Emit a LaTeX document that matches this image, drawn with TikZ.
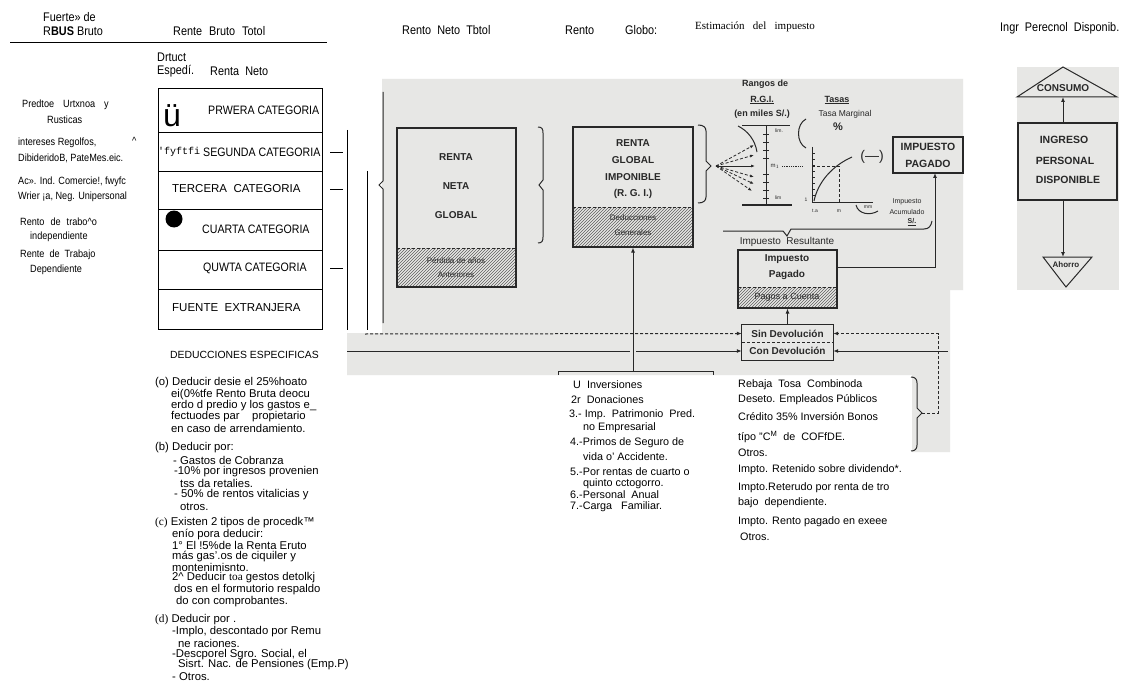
\documentclass[tikz,border=0pt]{standalone}
\usepackage{fontspec}
\setmainfont{Liberation Sans}
\newfontfamily\narrowf{Liberation Sans}[FakeStretch=0.87]
\newfontfamily\seriff{Liberation Serif}
\newfontfamily\monof{Liberation Mono}
\usetikzlibrary{patterns,arrows.meta}
\definecolor{ink}{RGB}{40,40,40}
\definecolor{scanbg}{RGB}{231,231,229}
\begin{document}
\begin{tikzpicture}[x=1pt,y=-1pt,
  txt/.style={inner sep=0pt, anchor=west},
  hdr/.style={txt, font=\narrowf\fontsize{12.5}{13}\selectfont},
  lab/.style={txt, font=\narrowf\fontsize{10.5}{11}\selectfont},
  ded/.style={txt, font=\fontsize{11.3}{12}\selectfont},
  lst/.style={txt, font=\fontsize{10.8}{12}\selectfont},
  cat/.style={draw=black, line width=0.8pt, minimum width=164pt, inner sep=0pt},
  catn/.style={txt, font=\narrowf\fontsize{12.2}{13}\selectfont},
  catr/.style={txt, font=\fontsize{11.5}{12}\selectfont},
  sbox/.style={draw=ink, line width=1.1pt, inner sep=0pt},
  stx/.style={inner sep=0pt, text=ink, font=\bfseries\fontsize{10}{11}\selectfont},
  ssm/.style={inner sep=0pt, text=ink, font=\fontsize{8}{9}\selectfont},
  sline/.style={draw=ink, line width=1pt},
  arr/.style={sline, -{Latex[length=5pt,width=4pt]}},
  hatch/.style={pattern=north east lines, pattern color=ink!75},
]
\useasboundingbox (0,0) rectangle (1121,687);
\fill[white] (0,0) rectangle (1121,687);
% scanned areas
\fill[scanbg] (382,79) -- (963,79) -- (963,290) -- (950,290) -- (950,452) -- (912,452) -- (912,375) -- (347,375) -- (347,333) -- (382,333) -- cycle;
\fill[scanbg] (1017,67) rectangle (1119,290);

% ---------- headers ----------
\node[hdr] (h1) at (43,17) {Fuerte» de};
\node[hdr] (h2) at (43,31) {R\textbf{BUS} Bruto};
\draw[line width=0.8pt] (10,42) -- (327,42);
\node[hdr] (h3) at (173,31) {Rente\hspace{7pt}Bruto\hspace{7pt}Totol};
\node[hdr] (h4) at (157,57) {Drtuct};
\node[hdr] (h5) at (157,71) {Espedí.};
\node[hdr] (h6) at (210,71) {Renta\ \ Neto};
\node[hdr] (h7) at (402,30) {Rento\ \ Neto\ \ Tbtol};
\node[hdr] (h8) at (565,30) {Rento};
\node[hdr] (h9) at (625,30) {Globo:};
\node[txt, font=\seriff\fontsize{11}{12}\selectfont] (h10) at (695,27) {Estimación\ \ \ del\ \ \ impuesto};
\node[hdr] (h11) at (1000,28) {Ingr\ \ Perecnol\ \ Disponib.};

% ---------- left labels ----------
\node[lab] (l1) at (22,105) {Predtoe\hspace{9pt}Urtxnoa\hspace{9pt}y};
\node[lab] (l2) at (47,120) {Rusticas};
\node[lab] (l3) at (18,143) {intereses Regolfos,};
\node[lab] (l3b) at (132,141) {\textasciicircum};
\node[lab] (l4) at (18,158) {DibideridoB, PateMes.eic.};
\node[lab] (l5) at (18,182) {Ac». Ind. Comercie!, fwyfc};
\node[lab] (l6) at (18,197) {Wrier ¡a, Neg. Unipersonal};
\node[lab] (l7) at (20,222) {Rento\hspace{6pt}de\hspace{6pt}trabo\textasciicircum o};
\node[lab] (l8) at (30,237) {independiente};
\node[lab] (l9) at (20,255) {Rente\hspace{5pt}de\hspace{5pt}Trabajo};
\node[lab] (l10) at (30,270) {Dependiente};

% ---------- category boxes ----------
\node[cat, minimum height=44pt] (c1) at (240,110) {};
\node[cat, minimum height=39pt] (c2) at (240,151.5) {};
\node[cat, minimum height=38pt] (c3) at (240,190) {};
\node[cat, minimum height=41pt] (c4) at (240,229.5) {};
\node[cat, minimum height=39pt] (c5) at (240,269.5) {};
\node[cat, minimum height=40pt] (c6) at (240,309) {};
\node[txt, font=\fontsize{32}{32}\selectfont] (uu) at (163,116) {ü};
\node[catn] (t1) at (208,110) {PRWERA CATEGORIA};
\node[txt, font=\monof\fontsize{10}{11}\selectfont] (t2a) at (158,152) {'fyftfi};
\node[catn] (t2) at (203,152) {SEGUNDA CATEGORIA};
\node[catr] (t3) at (172,189) {TERCERA\ \ CATEGORIA};
\node[circle, fill=black, minimum size=17pt, inner sep=0pt] (dot) at (174,219) {};
\node[catn] (t4) at (202,229) {CUARTA CATEGORIA};
\node[catn] (t5) at (203,268) {QUWTA CATEGORIA};
\node[catr] (t6) at (172,308) {FUENTE\ \ EXTRANJERA};
\draw[line width=0.8pt] (330,152) -- (343,152);
\draw[line width=0.8pt] (330,189) -- (343,189);
\draw[line width=0.8pt] (330,268) -- (343,268);
\draw[line width=0.9pt] (347,130) -- (347,330);
\draw[line width=0.9pt] (367,171) -- (367,330);

% ---------- deducciones ----------
\node[txt, font=\fontsize{10.4}{11}\selectfont] (d0) at (170,355) {DEDUCCIONES ESPECIFICAS};
\node[ded] (d1) at (155,383) {(o) Deducir desie el 25\%hoato};
\node[ded] (d2) at (171,395) {ei(0\%tfe Rento Bruta deocu};
\node[ded] (d3) at (171,406) {erdo d predio y los gastos e\_};
\node[ded] (d4) at (171,417) {fectuodes par\ \ \ \ propietario};
\node[ded] (d5) at (171,428) {en caso de arrendamiento.};
\node[ded] (d6) at (155,448) {(b) Deducir por:};
\node[ded] (d7) at (173,460) {- Gastos de Cobranza};
\node[ded] (d8) at (174,472) {-10\% por ingresos provenien};
\node[ded] (d9) at (180,483) {tss da retalies.};
\node[ded] (d10) at (174,495) {- 50\% de rentos vitalicias y};
\node[ded] (d11) at (180,507) {otros.};
\node[ded] (d12) at (155,523) {{\seriff(c)} Existen 2 tipos de procedk™};
\node[ded] (d13) at (172,535) {enío pora deducir:};
\node[ded] (d14) at (172,545) {1° El !5\%de la Renta Eruto};
\node[ded] (d15) at (172,557) {más gas'.os de ciquiler y};
\node[ded] (d16) at (172,567) {montenimisnto.};
\node[ded] (d17) at (172,578) {2\textasciicircum{} Deducir {\seriff toa} gestos detolkj};
\node[ded] (d18) at (174,590) {dos en el formutorio respaldo};
\node[ded] (d19) at (176,602) {do con comprobantes.};
\node[ded] (d20) at (155,620) {{\seriff(d)} Deducir por .};
\node[ded] (d21) at (172,632) {-Implo, descontado por Remu};
\node[ded] (d22) at (178,643) {ne raciones.};
\node[ded] (d23) at (172,655) {-Descporel Sgro. Social, el};
\node[ded] (d24) at (178,665) {Sisrt. Nac. de Pensiones (Emp.P)};
\node[ded] (d25) at (172,677) {- Otros.};

% ---------- lists ----------
\node[lst] (a1) at (573,385) {U\ \ Inversiones};
\node[lst] (a2) at (571,400) {2r\ \ Donaciones};
\node[lst] (a3) at (569,415) {3.- Imp.\ \ Patrimonio\ \ Pred.};
\node[lst] (a4) at (583,428) {no Empresarial};
\node[lst] (a5) at (570,443) {4.-Primos de Seguro de};
\node[lst] (a6) at (583,457) {vida o' Accidente.};
\node[lst] (a7) at (570,472) {5.-Por rentas de cuarto o};
\node[lst] (a8) at (583,484) {quinto cctogorro.};
\node[lst] (a9) at (570,495) {6.-Personal\ \ Anual};
\node[lst] (a10) at (570,507) {7.-Carga\ \ \ Familiar.};
\node[lst] (b1) at (738,385) {Rebaja\ \ Tosa\ \ Combinoda};
\node[lst] (b2) at (738,400) {Deseto. Empleados Públicos};
\node[lst] (b3) at (738,417) {Crédito 35\% Inversión Bonos};
\node[lst] (b4) at (738,437) {típo "C\textsuperscript{M}\ \ de\ \ COFfDE.};
\node[lst] (b5) at (738,453) {Otros.};
\node[lst] (b6) at (738,470) {Impto. Retenido sobre dividendo*.};
\node[lst] (b7) at (738,488) {Impto.Reterudo por renta de tro};
\node[lst] (b8) at (738,503) {bajo\ \ dependiente.};
\node[lst] (b9) at (738,522) {Impto. Rento pagado en exeee};
\node[lst] (b10) at (740,537) {Otros.};

% ---------- scanned diagram ----------
\draw[sline] (383,92) -- (383,181) -- (379,185) -- (383,189) -- (383,323);
% renta neta global
\fill[hatch] (397,248) rectangle (516,287);
\node[sbox, minimum width=119pt, minimum height=159pt] (rng) at (456.5,207.5) {};
\draw[sline, densely dashed] (397,248) -- (516,248);
\node[stx] (rn1) at (456,157) {RENTA};
\node[stx] (rn2) at (456,186) {NETA};
\node[stx] (rn3) at (456,215) {GLOBAL};
\node[ssm] (rn4) at (456,261) {Pérdida de años};
\node[ssm] (rn5) at (456,275) {Anteriores};
\draw[sline] (538,127) .. controls (542,127) and (543,129) .. (543,133) -- (543,180) -- (539,185) -- (543,190) -- (543,237) .. controls (543,241) and (542,243) .. (538,243);
% renta global imponible
\fill[hatch] (573,207) rectangle (693,247);
\node[sbox, minimum width=120pt, minimum height=120pt] (rgi) at (633,187) {};
\draw[sline, densely dashed] (573,207) -- (693,207);
\node[stx] (rg1) at (633,143) {RENTA};
\node[stx] (rg2) at (633,160) {GLOBAL};
\node[stx] (rg3) at (633,177) {IMPONIBLE};
\node[stx] (rg4) at (633,194) {(R. G. I.)};
\node[ssm] (rg5) at (633,218) {Deducciones};
\node[ssm] (rg6) at (633,233) {Generales};
\draw[sline] (698,125) .. controls (703,125) and (706,127) .. (706,131) -- (706,161) -- (711,166) -- (706,171) -- (706,197) .. controls (706,201) and (703,203) .. (698,203);
% fan
\coordinate (fo) at (716,166);
\coordinate (f1) at (754,145);
\coordinate (f2) at (754,155);
\coordinate (f3) at (755,166);
\coordinate (f4) at (754,177);
\coordinate (f5) at (754,184);
\coordinate (f6) at (752,191);
\foreach \p in {f1,f2,f4,f5,f6} \draw[sline, line width=0.8pt, densely dashed, -{Latex[length=4pt,width=3pt]}] (fo) -- (\p);
\draw[sline, line width=0.8pt, -{Latex[length=4pt,width=3pt]}] (fo) -- (f3);
\draw[sline] (738,126) .. controls (748,131) and (755,140) .. (757,152);
% scale
\draw[sline] (766,126) -- (766,205);
\draw[sline] (742,126) -- (790,126);
\draw[sline] (742,205) -- (792,205);
\foreach \yy in {134,142,150,158,174,182,190,198} \draw[ink, line width=0.8pt] (763,\yy) -- (769,\yy);
\node[ssm, font=\fontsize{5}{5}\selectfont] (s1) at (779,131) {lim.};
\node[ssm, font=\fontsize{6}{6}\selectfont] (s2) at (775,166) {m$_1$};
\node[ssm, font=\fontsize{5}{5}\selectfont] (s3) at (778,198) {lim};
\draw[ink, densely dotted, line width=0.8pt] (782,166) -- (803,166);
\node[stx, font=\bfseries\fontsize{9}{10}\selectfont] (rg7) at (765,84) {Rangos de};
\node[stx, font=\bfseries\fontsize{9}{10}\selectfont] (rg8) at (762,100) {\underline{R.G.I.}};
\node[stx, font=\bfseries\fontsize{9}{10}\selectfont] (rg9) at (762,114) {(en miles S/.)};
\node[stx, font=\bfseries\fontsize{9}{10}\selectfont] (ts1) at (837,100) {\underline{Tasas}};
\node[ssm, font=\fontsize{8.5}{9}\selectfont] (ts2) at (845,114) {Tasa Marginal};
\node[stx, font=\bfseries\fontsize{11}{11}\selectfont] (ts3) at (838,127) {\%};
% graph
\draw[sline] (806,119) .. controls (796,124) and (796,143) .. (806,148);
\draw[sline] (812,147) -- (812,203) -- (873,203);
\foreach \yy in {153,159,...,197} \draw[ink, line width=0.7pt] (812,\yy) -- (815,\yy);
\node[ssm, font=\fontsize{5}{5}\selectfont] (g1) at (806,200) {1};
\node[ssm, font=\fontsize{5}{5}\selectfont] (g2) at (815,211) {t.a};
\node[ssm, font=\fontsize{5}{5}\selectfont] (g3) at (839,211) {m};
\draw[sline] (814,201) .. controls (818,182) and (832,166) .. (852,157);
\draw[ink, densely dashed, line width=0.8pt] (812,166) -- (839,166) -- (839,203);
\node[stx, font=\fontsize{14}{14}\selectfont] (mn) at (872,157) {(—)};
\draw[sline] (856,205) .. controls (858,214) and (870,216) .. (878,211);
\node[ssm, font=\fontsize{5}{5}\selectfont] (g4) at (868,207) {mm};
\node[ssm, font=\fontsize{7}{8}\selectfont] (ia1) at (907,202) {Impuesto};
\node[ssm, font=\fontsize{7}{8}\selectfont] (ia2) at (907,212) {Acumulado};
\node[ssm, font=\bfseries\fontsize{7}{8}\selectfont] (ia3) at (912,222) {\underline{S/.}};
\draw[sline] (723,231) -- (783,231) -- (787,236) -- (791,229) -- (924,229) .. controls (929,229) and (931,226) .. (932,221);
\node[inner sep=0pt, text=ink, font=\fontsize{10}{11}\selectfont] (ir) at (787,242) {Impuesto\ \ Resultante};
% impuesto pagado (big)
\node[sbox, line width=1.3pt, minimum width=70pt, minimum height=36pt] (ip2) at (928,155) {};
\node[stx, font=\bfseries\fontsize{10.5}{11}\selectfont] (ip2a) at (928,147) {IMPUESTO};
\node[stx, font=\bfseries\fontsize{10.5}{11}\selectfont] (ip2b) at (928,164) {PAGADO};
% impuesto pagado (small)
\fill[hatch] (738,287) rectangle (837,308);
\node[sbox, minimum width=99pt, minimum height=58pt] (ip) at (787.5,279) {};
\draw[sline, densely dashed] (738,287) -- (837,287);
\node[stx] (ipa) at (787,259) {Impuesto};
\node[stx] (ipb) at (787,275) {Pagado};
\node[ssm, font=\fontsize{9}{9}\selectfont] (ipc2) at (787,297) {Pagos a Cuenta};
% sin / con devolucion
\node[inner sep=0pt, minimum width=91pt, minimum height=17pt, text=ink, font=\bfseries\fontsize{10}{11}\selectfont] (sin) at (787.5,333.5) {Sin Devolución};
\node[inner sep=0pt, minimum width=91pt, minimum height=18pt, text=ink, font=\bfseries\fontsize{10}{11}\selectfont] (con) at (787.5,351) {Con Devolución};
\draw[sline] (sin.north west) rectangle (con.south east);
\draw[sline, densely dashed] (sin.south west) -- (sin.south east);
\draw[arr] (sin.north) -- (ip.south);
% connectors from the left
\coordinate (dl) at (365,334);
\coordinate (sl) at (347,351);
\draw[arr, densely dashed] (dl) -- (sin.west);
\draw[arr] (sl) -- (con.west);
\draw[scanbg, line width=6pt] (633,348) -- (633,355);
\coordinate (lb) at (633,371);
\draw[arr] (lb) -- (rgi.south);
\draw[sline] (558,375) -- (558,371) -- (713,371) -- (713,375);
% connectors from the right
\draw[sline] (911,377) .. controls (915,377) and (917,379) .. (917,383) -- (917,408) -- (922,413) -- (917,418) -- (917,445) .. controls (917,449) and (915,451) .. (911,451);
\coordinate (br) at (922,413);
\coordinate (dr) at (938,413);
\draw[arr, densely dashed] (br) -- (dr) |- (sin.east);
\coordinate (sr) at (948,351);
\draw[arr] (sr) -- (con.east);
\coordinate (ipr) at (837,267);
\coordinate (ipt) at (935,173);
\draw[arr] (ipr) -| (ipt);

% ---------- ingreso personal disponible ----------
\draw[sline] (1017,97) -- (1063,67) -- (1117,97) -- cycle;
\node[stx, font=\bfseries\fontsize{10}{11}\selectfont] (cons) at (1063,88) {CONSUMO};
\coordinate (consb) at (1063,97);
\node[sbox, minimum width=99pt, minimum height=77pt] (ing) at (1067.5,161.5) {};
\node[stx, font=\bfseries\fontsize{10.5}{11}\selectfont] (ing1) at (1064,140) {INGRESO};
\node[stx, font=\bfseries\fontsize{10.5}{11}\selectfont] (ing2) at (1065,161) {PERSONAL};
\node[stx, font=\bfseries\fontsize{10.5}{11}\selectfont] (ing3) at (1068,180) {DISPONIBLE};
\draw[arr] (ing.north -| consb) -- (consb);
\draw[sline] (1043,257) -- (1092,257) -- (1066,287) -- cycle;
\node[stx, font=\bfseries\fontsize{8}{9}\selectfont] (aho) at (1066,265) {Ahorro};
\coordinate (ahot) at (1063,257);
\draw[arr] (ing.south -| ahot) -- (ahot);
\end{tikzpicture}
\end{document}
